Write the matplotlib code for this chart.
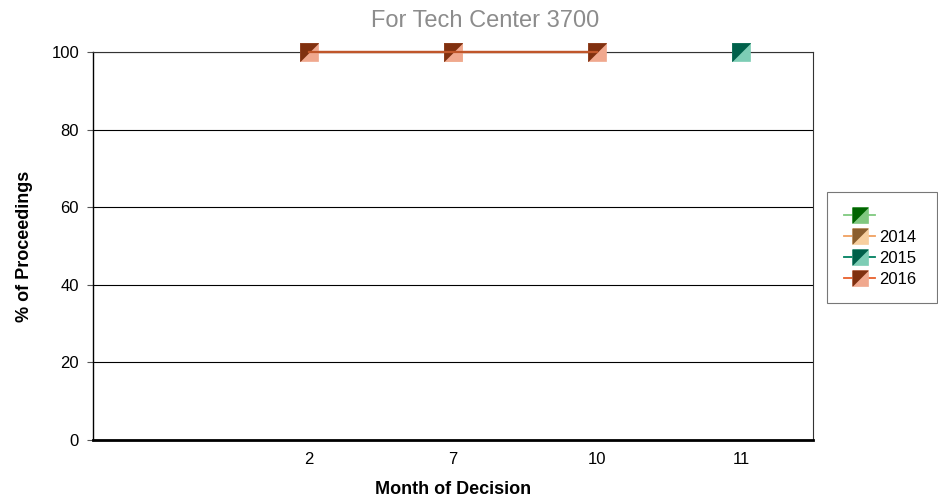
import numpy as np
import matplotlib.pyplot as plt
from matplotlib.lines import Line2D
from matplotlib.legend_handler import HandlerTuple

plt.rcParams['font.family'] = ['Liberation Sans', 'DejaVu Sans']

months = ["", "2", "7", "10", "11"]
series_names = ["", "2014", "2015", "2016"]
pct_blank = [np.nan, np.nan, np.nan, np.nan, np.nan]
pct_2014 = [np.nan, np.nan, 100, np.nan, np.nan]
pct_2015 = [np.nan, np.nan, np.nan, np.nan, 100]
pct_2016 = [np.nan, 100, 100, 100, np.nan]

# (line colour, dark half, light half)
styles = [
    ("#7fc97f", "#006400", "#80c880"),
    ("#f0a060", "#8b5e2e", "#f7cf9f"),
    ("#008060", "#00604a", "#7dcdb5"),
    ("#c0562a", "#80300f", "#f0a88e"),
]
legend_lines = ["#7fc97f", "#f0a060", "#008060", "#e8602c"]

# square split along the diagonal: light square, dark upper-left triangle on top
upper = [(-1, 1), (1, 1), (-1, -1), (-1, 1)]

fig = plt.figure(figsize=(9.38, 5), dpi=100)
ax = fig.add_axes([93 / 938, 1 - 440 / 500, 720 / 938, 388 / 500])

x = np.arange(len(months))
handles = []
for vals, (lc, dark, light), llc in zip([pct_blank, pct_2014, pct_2015, pct_2016], styles, legend_lines):
    ax.plot(x, vals, color=lc, lw=1.6, zorder=3, clip_on=False)
    ax.plot(x, vals, ls="none", marker="s", ms=13, mfc=light, mec=light, mew=0.5,
            zorder=4, clip_on=False)
    ax.plot(x, vals, ls="none", marker=upper, ms=13, mfc=dark, mec=dark, mew=0.5,
            zorder=4, clip_on=False)
    h_line = Line2D([], [], color=llc, lw=1.3)
    h_lo = Line2D([], [], ls="none", marker="s", ms=11, mfc=light, mec=light, mew=0.5)
    h_up = Line2D([], [], ls="none", marker=upper, ms=11, mfc=dark, mec=dark, mew=0.5)
    handles.append((h_line, h_lo, h_up))

# the 2016 line runs over the 2014 marker at month 7
ax.plot(x, pct_2016, color=styles[3][0], lw=1.6, zorder=5, clip_on=False)

ax.set_xlim(-0.5, len(months) - 0.5)
ax.set_ylim(0, 100)
ax.set_xticks(x)
ax.set_xticklabels(months)
ax.set_yticks(np.arange(0, 101, 20))
ax.tick_params(axis="x", length=0, labelsize=12, pad=9)
ax.tick_params(axis="y", length=4, width=0.8, color="#555555", labelsize=12, pad=6)
ax.yaxis.grid(True, color="black", lw=0.8)
ax.set_axisbelow(True)
for side in ["top", "right"]:
    ax.spines[side].set_linewidth(0.8)
    ax.spines[side].set_color("#333333")
ax.spines["left"].set_linewidth(1.0)
ax.spines["bottom"].set_linewidth(2.0)

ax.set_xlabel("Month of Decision", fontsize=13, fontweight="bold", labelpad=10)
ax.set_ylabel("% of Proceedings", fontsize=13, fontweight="bold", labelpad=13)
fig.text(485 / 938, 1 - 21 / 500, "For Tech Center 3700", ha="center", va="center",
         fontsize=17, color="#8c8c8c")

leg = fig.legend(handles, series_names, handler_map={tuple: HandlerTuple(ndivide=1)},
                 loc="upper left", bbox_to_anchor=(827 / 938, 1 - 192 / 500, 110 / 938, 0),
                 mode="expand", frameon=True, fancybox=False, edgecolor="#555555",
                 fontsize=12, handlelength=1.9, handletextpad=0.25, labelspacing=0.36,
                 borderpad=1.0, borderaxespad=0)
leg.get_frame().set_linewidth(0.8)

fig.savefig("out.png", dpi=100)
